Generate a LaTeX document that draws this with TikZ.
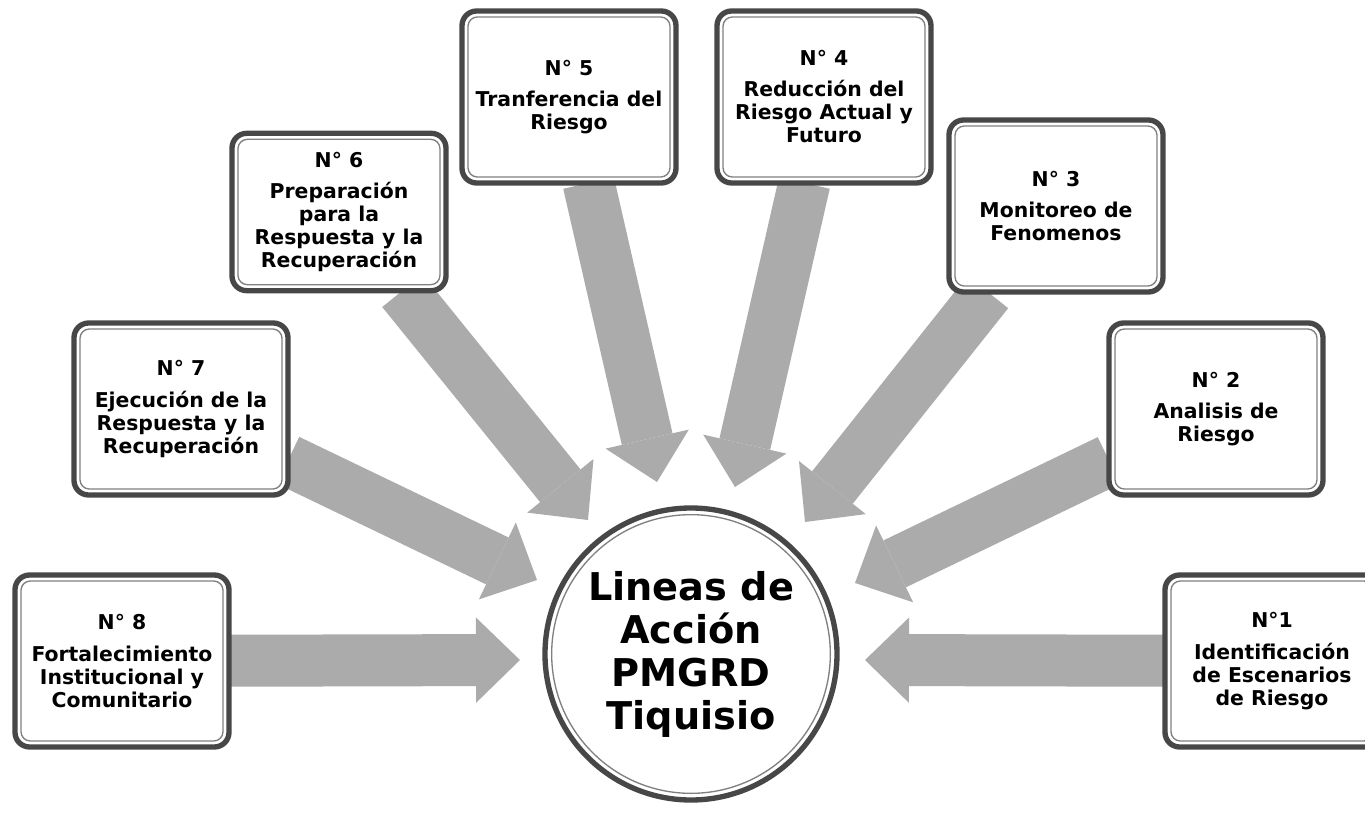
\documentclass[tikz,border=0pt]{standalone}
\usepackage{fontspec}
\setmainfont{DejaVu Sans}
\usetikzlibrary{arrows.meta}
\usetikzlibrary{backgrounds}

\tikzset{
  linea/.style={rectangle, rounded corners=11pt, draw=black!72, line width=4pt,
    fill=white, outer sep=0pt, minimum width=160.5pt, minimum height=129pt,
    align=center, font=\bfseries\fontsize{15.3}{17.25}\selectfont},
  centro/.style={circle, draw=black!72, line width=4pt, fill=white,
    minimum size=219pt, inner sep=0pt, outer sep=0pt, align=center,
    font=\bfseries\fontsize{28.7}{32.25}\selectfont},
  filete/.style={draw=black!50, line width=1pt},
  flecha/.style={draw=black!33, line width=39pt,
    -{Triangle[length=33pt,width=64pt,line width=0pt]}},
}

\begin{document}
\begin{tikzpicture}[x=0.75pt,y=-0.75pt]
\useasboundingbox (0,0) rectangle (1365,817);

% lineas de accion
\node[linea] (n1) at (1272,661) {N°1\\[6.5pt]Identificación\\de Escenarios\\de Riesgo};
\node[linea] (n2) at (1216,409) {N° 2\\[6.5pt]Analisis de\\Riesgo};
\node[linea] (n3) at (1056,206) {N° 3\\[6.5pt]Monitoreo de\\Fenomenos};
\node[linea] (n4) at (824,97) {N° 4\\[6pt]Reducción del\\Riesgo Actual y\\Futuro};
\node[linea] (n5) at (569,97) {N° 5\\[6.5pt]Tranferencia del\\Riesgo};
\node[linea, minimum height=118pt] (n6) at (339,212) {N° 6\\[6pt]Preparación\\para la\\Respuesta y la\\Recuperación};
\node[linea] (n7) at (181,409) {N° 7\\[6.5pt]Ejecución de la\\Respuesta y la\\Recuperación};
\node[linea] (n8) at (122,661) {N° 8\\[6.5pt]Fortalecimiento\\Institucional y\\Comunitario};

\node[centro] (c) at (691,654) {Lineas de\\Acción\\PMGRD\\Tiquisio};
\draw[filete] (c.center) circle[radius=104.5pt];

\foreach \i in {1,...,8}
  \draw[filete, rounded corners=7pt] ([shift={(4.5pt,-4.5pt)}]n\i.north west)
    rectangle ([shift={(-4.5pt,4.5pt)}]n\i.south east);

% puntas de flecha
\coordinate (p1) at (865,660);
\coordinate (p2) at (855,583);
\coordinate (p3) at (805,522);
\coordinate (p4) at (735,487);
\coordinate (p5) at (657,482);
\coordinate (p6) at (588,520);
\coordinate (p7) at (537,580);
\coordinate (p8) at (520,660);

\begin{pgfonlayer}{background}
\foreach \i in {1,...,8}
  \draw[flecha] (n\i) -- (p\i);
\end{pgfonlayer}
\end{tikzpicture}
\end{document}
